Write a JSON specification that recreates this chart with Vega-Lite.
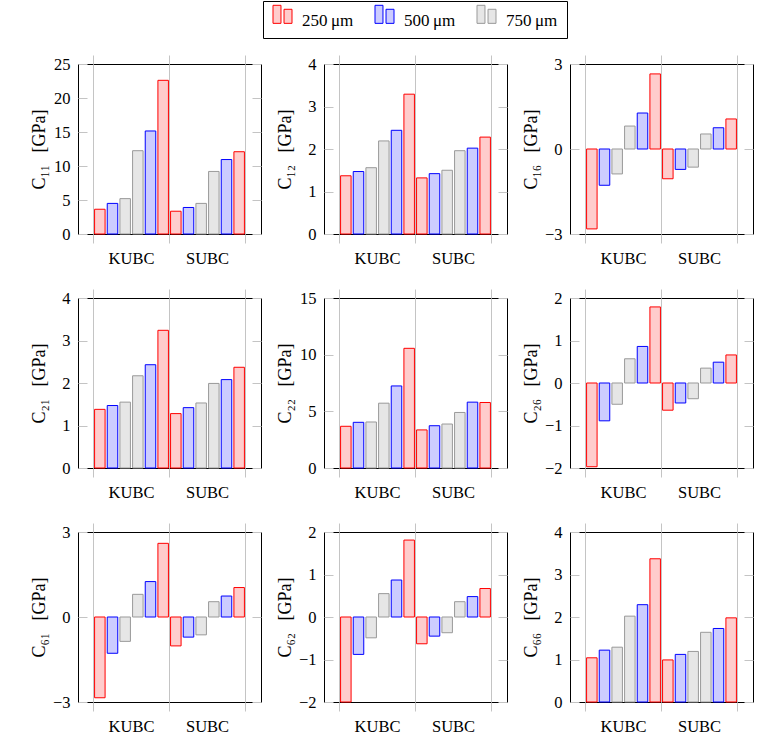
{
"$schema":"https://vega.github.io/schema/vega-lite/v6.json",
"padding":{"left":30,"top":0,"right":0,"bottom":0},
"bounds":"flush",
"columns":3,
"spacing":{"row":64,"column":63},
"config":{"font":"Liberation Serif","view":{"stroke":"#000000","strokeWidth":1},
"axis":{"labelFont":"Liberation Serif","labelFontSize":16.5,"labelColor":"#000","titleFont":"Liberation Serif","titleFontSize":18,"titleFontWeight":"normal","titleColor":"#000","tickColor":"#c4c4c4","gridColor":"#c4c4c4","domain":false,"tickWidth":1,"gridWidth":1}},
"data":{"values":[
{"panel":"C11","group":"KUBC","bar":1,"size":"250","value":3.64},{"panel":"C11","group":"KUBC","bar":2,"size":"500","value":4.5},{"panel":"C11","group":"KUBC","bar":3,"size":"750","value":5.2},{"panel":"C11","group":"KUBC","bar":4,"size":"750","value":12.25},{"panel":"C11","group":"KUBC","bar":5,"size":"500","value":15.15},{"panel":"C11","group":"KUBC","bar":6,"size":"250","value":22.6},
{"panel":"C11","group":"SUBC","bar":1,"size":"250","value":3.35},{"panel":"C11","group":"SUBC","bar":2,"size":"500","value":3.9},{"panel":"C11","group":"SUBC","bar":3,"size":"750","value":4.5},{"panel":"C11","group":"SUBC","bar":4,"size":"750","value":9.2},{"panel":"C11","group":"SUBC","bar":5,"size":"500","value":10.95},{"panel":"C11","group":"SUBC","bar":6,"size":"250","value":12.1},
{"panel":"C12","group":"KUBC","bar":1,"size":"250","value":1.37},{"panel":"C12","group":"KUBC","bar":2,"size":"500","value":1.47},{"panel":"C12","group":"KUBC","bar":3,"size":"750","value":1.56},{"panel":"C12","group":"KUBC","bar":4,"size":"750","value":2.19},{"panel":"C12","group":"KUBC","bar":5,"size":"500","value":2.44},{"panel":"C12","group":"KUBC","bar":6,"size":"250","value":3.29},
{"panel":"C12","group":"SUBC","bar":1,"size":"250","value":1.32},{"panel":"C12","group":"SUBC","bar":2,"size":"500","value":1.42},{"panel":"C12","group":"SUBC","bar":3,"size":"750","value":1.5},{"panel":"C12","group":"SUBC","bar":4,"size":"750","value":1.96},{"panel":"C12","group":"SUBC","bar":5,"size":"500","value":2.02},{"panel":"C12","group":"SUBC","bar":6,"size":"250","value":2.28},
{"panel":"C16","group":"KUBC","bar":1,"size":"250","value":-2.82},{"panel":"C16","group":"KUBC","bar":2,"size":"500","value":-1.28},{"panel":"C16","group":"KUBC","bar":3,"size":"750","value":-0.88},{"panel":"C16","group":"KUBC","bar":4,"size":"750","value":0.81},{"panel":"C16","group":"KUBC","bar":5,"size":"500","value":1.27},{"panel":"C16","group":"KUBC","bar":6,"size":"250","value":2.65},
{"panel":"C16","group":"SUBC","bar":1,"size":"250","value":-1.05},{"panel":"C16","group":"SUBC","bar":2,"size":"500","value":-0.72},{"panel":"C16","group":"SUBC","bar":3,"size":"750","value":-0.64},{"panel":"C16","group":"SUBC","bar":4,"size":"750","value":0.53},{"panel":"C16","group":"SUBC","bar":5,"size":"500","value":0.75},{"panel":"C16","group":"SUBC","bar":6,"size":"250","value":1.06},
{"panel":"C21","group":"KUBC","bar":1,"size":"250","value":1.38},{"panel":"C21","group":"KUBC","bar":2,"size":"500","value":1.47},{"panel":"C21","group":"KUBC","bar":3,"size":"750","value":1.55},{"panel":"C21","group":"KUBC","bar":4,"size":"750","value":2.17},{"panel":"C21","group":"KUBC","bar":5,"size":"500","value":2.43},{"panel":"C21","group":"KUBC","bar":6,"size":"250","value":3.24},
{"panel":"C21","group":"SUBC","bar":1,"size":"250","value":1.28},{"panel":"C21","group":"SUBC","bar":2,"size":"500","value":1.42},{"panel":"C21","group":"SUBC","bar":3,"size":"750","value":1.53},{"panel":"C21","group":"SUBC","bar":4,"size":"750","value":1.99},{"panel":"C21","group":"SUBC","bar":5,"size":"500","value":2.08},{"panel":"C21","group":"SUBC","bar":6,"size":"250","value":2.37},
{"panel":"C22","group":"KUBC","bar":1,"size":"250","value":3.68},{"panel":"C22","group":"KUBC","bar":2,"size":"500","value":4.03},{"panel":"C22","group":"KUBC","bar":3,"size":"750","value":4.06},{"panel":"C22","group":"KUBC","bar":4,"size":"750","value":5.72},{"panel":"C22","group":"KUBC","bar":5,"size":"500","value":7.24},{"panel":"C22","group":"KUBC","bar":6,"size":"250","value":10.56},
{"panel":"C22","group":"SUBC","bar":1,"size":"250","value":3.36},{"panel":"C22","group":"SUBC","bar":2,"size":"500","value":3.73},{"panel":"C22","group":"SUBC","bar":3,"size":"750","value":3.88},{"panel":"C22","group":"SUBC","bar":4,"size":"750","value":4.9},{"panel":"C22","group":"SUBC","bar":5,"size":"500","value":5.81},{"panel":"C22","group":"SUBC","bar":6,"size":"250","value":5.78},
{"panel":"C26","group":"KUBC","bar":1,"size":"250","value":-1.97},{"panel":"C26","group":"KUBC","bar":2,"size":"500","value":-0.89},{"panel":"C26","group":"KUBC","bar":3,"size":"750","value":-0.5},{"panel":"C26","group":"KUBC","bar":4,"size":"750","value":0.57},{"panel":"C26","group":"KUBC","bar":5,"size":"500","value":0.86},{"panel":"C26","group":"KUBC","bar":6,"size":"250","value":1.79},
{"panel":"C26","group":"SUBC","bar":1,"size":"250","value":-0.64},{"panel":"C26","group":"SUBC","bar":2,"size":"500","value":-0.47},{"panel":"C26","group":"SUBC","bar":3,"size":"750","value":-0.37},{"panel":"C26","group":"SUBC","bar":4,"size":"750","value":0.35},{"panel":"C26","group":"SUBC","bar":5,"size":"500","value":0.49},{"panel":"C26","group":"SUBC","bar":6,"size":"250","value":0.66},
{"panel":"C61","group":"KUBC","bar":1,"size":"250","value":-2.85},{"panel":"C61","group":"KUBC","bar":2,"size":"500","value":-1.28},{"panel":"C61","group":"KUBC","bar":3,"size":"750","value":-0.86},{"panel":"C61","group":"KUBC","bar":4,"size":"750","value":0.8},{"panel":"C61","group":"KUBC","bar":5,"size":"500","value":1.25},{"panel":"C61","group":"KUBC","bar":6,"size":"250","value":2.6},
{"panel":"C61","group":"SUBC","bar":1,"size":"250","value":-1.02},{"panel":"C61","group":"SUBC","bar":2,"size":"500","value":-0.71},{"panel":"C61","group":"SUBC","bar":3,"size":"750","value":-0.63},{"panel":"C61","group":"SUBC","bar":4,"size":"750","value":0.54},{"panel":"C61","group":"SUBC","bar":5,"size":"500","value":0.74},{"panel":"C61","group":"SUBC","bar":6,"size":"250","value":1.04},
{"panel":"C62","group":"KUBC","bar":1,"size":"250","value":-2.0},{"panel":"C62","group":"KUBC","bar":2,"size":"500","value":-0.88},{"panel":"C62","group":"KUBC","bar":3,"size":"750","value":-0.49},{"panel":"C62","group":"KUBC","bar":4,"size":"750","value":0.55},{"panel":"C62","group":"KUBC","bar":5,"size":"500","value":0.87},{"panel":"C62","group":"KUBC","bar":6,"size":"250","value":1.81},
{"panel":"C62","group":"SUBC","bar":1,"size":"250","value":-0.63},{"panel":"C62","group":"SUBC","bar":2,"size":"500","value":-0.45},{"panel":"C62","group":"SUBC","bar":3,"size":"750","value":-0.37},{"panel":"C62","group":"SUBC","bar":4,"size":"750","value":0.36},{"panel":"C62","group":"SUBC","bar":5,"size":"500","value":0.48},{"panel":"C62","group":"SUBC","bar":6,"size":"250","value":0.67},
{"panel":"C66","group":"KUBC","bar":1,"size":"250","value":1.04},{"panel":"C66","group":"KUBC","bar":2,"size":"500","value":1.22},{"panel":"C66","group":"KUBC","bar":3,"size":"750","value":1.29},{"panel":"C66","group":"KUBC","bar":4,"size":"750","value":2.02},{"panel":"C66","group":"KUBC","bar":5,"size":"500","value":2.29},{"panel":"C66","group":"KUBC","bar":6,"size":"250","value":3.37},
{"panel":"C66","group":"SUBC","bar":1,"size":"250","value":0.99},{"panel":"C66","group":"SUBC","bar":2,"size":"500","value":1.12},{"panel":"C66","group":"SUBC","bar":3,"size":"750","value":1.19},{"panel":"C66","group":"SUBC","bar":4,"size":"750","value":1.64},{"panel":"C66","group":"SUBC","bar":5,"size":"500","value":1.73},{"panel":"C66","group":"SUBC","bar":6,"size":"250","value":1.98}
]},
"concat":[
{"width":183,"height":170,"transform":[{"filter":"datum.panel==='C11'"}],"resolve":{"axis":{"x":"independent","y":"independent"}},
"layer":[
{"mark":{"type":"bar","strokeWidth":1},"encoding":{
"x":{"field":"group","type":"nominal","sort":["KUBC","SUBC"],"scale":{"paddingInner":0,"paddingOuter":0.204},"axis":{"orient":"bottom","bandPosition":0,"grid":true,"tickSize":9,"labelPadding":7,"labelAngle":0,"title":null}},
"xOffset":{"field":"bar","type":"ordinal","scale":{"paddingInner":0.17,"paddingOuter":0.085}},
"y":{"field":"value","type":"quantitative","scale":{"domain":[0,25],"nice":false},"axis":{"orient":"left","values":[0,5,10,15,20,25],"tickSize":-9,"labelPadding":17,"minExtent":26,"maxExtent":26,"titlePadding":3.5,"grid":false,"title":"C₁₁\u2002\u2009[GPa]"}},
"fill":{"field":"size","type":"nominal","scale":{"domain":["250","500","750"],"range":["#ffcccc","#ccccff","#e6e6e6"]},"legend":{"orient":"none","legendX":185,"legendY":-63,"direction":"horizontal","title":null,"labelExpr":"datum.label + '\u2009μm'","symbolType":"M-1,-1.6H-0.16V0.3H-1Z M0.16,-1.18H1V0.3H0.16Z","symbolSize":361,"symbolStrokeWidth":1,"labelFont":"Liberation Serif","labelFontSize":17,"labelColor":"#000","labelOffset":9.5,"columnPadding":19,"padding":9.5,"strokeColor":"#000","fillColor":"#fff","cornerRadius":0}},
"stroke":{"field":"size","type":"nominal","scale":{"domain":["250","500","750"],"range":["#ff0000","#0000ff","#999999"]},"legend":{"orient":"none","legendX":185,"legendY":-63,"direction":"horizontal","title":null,"labelExpr":"datum.label + '\u2009μm'","symbolType":"M-1,-1.6H-0.16V0.3H-1Z M0.16,-1.18H1V0.3H0.16Z","symbolSize":361,"symbolStrokeWidth":1,"labelFont":"Liberation Serif","labelFontSize":17,"labelColor":"#000","labelOffset":9.5,"columnPadding":19,"padding":9.5,"strokeColor":"#000","fillColor":"#fff","cornerRadius":0}}}},
{"mark":{"type":"bar","opacity":0},"encoding":{"x":{"field":"group","type":"nominal","sort":["KUBC","SUBC"],"axis":{"orient":"bottom","bandPosition":1,"values":["SUBC"],"grid":true,"tickSize":9,"labels":false,"title":null}},"xOffset":{"field":"bar","type":"ordinal"},"y":{"field":"value","type":"quantitative","axis":{"orient":"right","values":[0,5,10,15,20,25],"tickSize":-9,"labels":false,"grid":false,"title":null}}}},
{"mark":{"type":"bar","opacity":0},"encoding":{"x":{"field":"group","type":"nominal","sort":["KUBC","SUBC"],"axis":{"orient":"top","bandPosition":0,"grid":false,"tickSize":9,"labels":false,"title":null}},"xOffset":{"field":"bar","type":"ordinal"},"y":{"field":"value","type":"quantitative","axis":null}}},
{"mark":{"type":"bar","opacity":0},"encoding":{"x":{"field":"group","type":"nominal","sort":["KUBC","SUBC"],"axis":{"orient":"top","bandPosition":1,"values":["SUBC"],"grid":false,"tickSize":9,"labels":false,"title":null}},"xOffset":{"field":"bar","type":"ordinal"},"y":{"field":"value","type":"quantitative","axis":null}}}
]},
{"width":183,"height":170,"transform":[{"filter":"datum.panel==='C12'"}],"resolve":{"axis":{"x":"independent","y":"independent"}},
"layer":[
{"mark":{"type":"bar","strokeWidth":1},"encoding":{
"x":{"field":"group","type":"nominal","sort":["KUBC","SUBC"],"scale":{"paddingInner":0,"paddingOuter":0.204},"axis":{"orient":"bottom","bandPosition":0,"grid":true,"tickSize":9,"labelPadding":7,"labelAngle":0,"title":null}},
"xOffset":{"field":"bar","type":"ordinal","scale":{"paddingInner":0.17,"paddingOuter":0.085}},
"y":{"field":"value","type":"quantitative","scale":{"domain":[0,4],"nice":false},"axis":{"orient":"left","values":[0,1,2,3,4],"tickSize":-9,"labelPadding":17,"minExtent":26,"maxExtent":26,"titlePadding":3.5,"grid":false,"title":"C₁₂\u2002\u2009[GPa]"}},
"fill":{"field":"size","type":"nominal"},
"stroke":{"field":"size","type":"nominal"}}},
{"mark":{"type":"bar","opacity":0},"encoding":{"x":{"field":"group","type":"nominal","sort":["KUBC","SUBC"],"axis":{"orient":"bottom","bandPosition":1,"values":["SUBC"],"grid":true,"tickSize":9,"labels":false,"title":null}},"xOffset":{"field":"bar","type":"ordinal"},"y":{"field":"value","type":"quantitative","axis":{"orient":"right","values":[0,1,2,3,4],"tickSize":-9,"labels":false,"grid":false,"title":null}}}},
{"mark":{"type":"bar","opacity":0},"encoding":{"x":{"field":"group","type":"nominal","sort":["KUBC","SUBC"],"axis":{"orient":"top","bandPosition":0,"grid":false,"tickSize":9,"labels":false,"title":null}},"xOffset":{"field":"bar","type":"ordinal"},"y":{"field":"value","type":"quantitative","axis":null}}},
{"mark":{"type":"bar","opacity":0},"encoding":{"x":{"field":"group","type":"nominal","sort":["KUBC","SUBC"],"axis":{"orient":"top","bandPosition":1,"values":["SUBC"],"grid":false,"tickSize":9,"labels":false,"title":null}},"xOffset":{"field":"bar","type":"ordinal"},"y":{"field":"value","type":"quantitative","axis":null}}}
]},
{"width":183,"height":170,"transform":[{"filter":"datum.panel==='C16'"}],"resolve":{"axis":{"x":"independent","y":"independent"}},
"layer":[
{"mark":{"type":"bar","strokeWidth":1},"encoding":{
"x":{"field":"group","type":"nominal","sort":["KUBC","SUBC"],"scale":{"paddingInner":0,"paddingOuter":0.204},"axis":{"orient":"bottom","bandPosition":0,"grid":true,"tickSize":9,"labelPadding":7,"labelAngle":0,"title":null}},
"xOffset":{"field":"bar","type":"ordinal","scale":{"paddingInner":0.17,"paddingOuter":0.085}},
"y":{"field":"value","type":"quantitative","scale":{"domain":[-3,3],"nice":false},"axis":{"orient":"left","values":[-3,0,3],"tickSize":-9,"labelPadding":17,"minExtent":26,"maxExtent":26,"titlePadding":3.5,"grid":false,"title":"C₁₆\u2002\u2009[GPa]"}},
"fill":{"field":"size","type":"nominal"},
"stroke":{"field":"size","type":"nominal"}}},
{"mark":{"type":"bar","opacity":0},"encoding":{"x":{"field":"group","type":"nominal","sort":["KUBC","SUBC"],"axis":{"orient":"bottom","bandPosition":1,"values":["SUBC"],"grid":true,"tickSize":9,"labels":false,"title":null}},"xOffset":{"field":"bar","type":"ordinal"},"y":{"field":"value","type":"quantitative","axis":{"orient":"right","values":[-3,0,3],"tickSize":-9,"labels":false,"grid":false,"title":null}}}},
{"mark":{"type":"bar","opacity":0},"encoding":{"x":{"field":"group","type":"nominal","sort":["KUBC","SUBC"],"axis":{"orient":"top","bandPosition":0,"grid":false,"tickSize":9,"labels":false,"title":null}},"xOffset":{"field":"bar","type":"ordinal"},"y":{"field":"value","type":"quantitative","axis":null}}},
{"mark":{"type":"bar","opacity":0},"encoding":{"x":{"field":"group","type":"nominal","sort":["KUBC","SUBC"],"axis":{"orient":"top","bandPosition":1,"values":["SUBC"],"grid":false,"tickSize":9,"labels":false,"title":null}},"xOffset":{"field":"bar","type":"ordinal"},"y":{"field":"value","type":"quantitative","axis":null}}}
]},
{"width":183,"height":170,"transform":[{"filter":"datum.panel==='C21'"}],"resolve":{"axis":{"x":"independent","y":"independent"}},
"layer":[
{"mark":{"type":"bar","strokeWidth":1},"encoding":{
"x":{"field":"group","type":"nominal","sort":["KUBC","SUBC"],"scale":{"paddingInner":0,"paddingOuter":0.204},"axis":{"orient":"bottom","bandPosition":0,"grid":true,"tickSize":9,"labelPadding":7,"labelAngle":0,"title":null}},
"xOffset":{"field":"bar","type":"ordinal","scale":{"paddingInner":0.17,"paddingOuter":0.085}},
"y":{"field":"value","type":"quantitative","scale":{"domain":[0,4],"nice":false},"axis":{"orient":"left","values":[0,1,2,3,4],"tickSize":-9,"labelPadding":17,"minExtent":26,"maxExtent":26,"titlePadding":3.5,"grid":false,"title":"C₂₁\u2002\u2009[GPa]"}},
"fill":{"field":"size","type":"nominal"},
"stroke":{"field":"size","type":"nominal"}}},
{"mark":{"type":"bar","opacity":0},"encoding":{"x":{"field":"group","type":"nominal","sort":["KUBC","SUBC"],"axis":{"orient":"bottom","bandPosition":1,"values":["SUBC"],"grid":true,"tickSize":9,"labels":false,"title":null}},"xOffset":{"field":"bar","type":"ordinal"},"y":{"field":"value","type":"quantitative","axis":{"orient":"right","values":[0,1,2,3,4],"tickSize":-9,"labels":false,"grid":false,"title":null}}}},
{"mark":{"type":"bar","opacity":0},"encoding":{"x":{"field":"group","type":"nominal","sort":["KUBC","SUBC"],"axis":{"orient":"top","bandPosition":0,"grid":false,"tickSize":9,"labels":false,"title":null}},"xOffset":{"field":"bar","type":"ordinal"},"y":{"field":"value","type":"quantitative","axis":null}}},
{"mark":{"type":"bar","opacity":0},"encoding":{"x":{"field":"group","type":"nominal","sort":["KUBC","SUBC"],"axis":{"orient":"top","bandPosition":1,"values":["SUBC"],"grid":false,"tickSize":9,"labels":false,"title":null}},"xOffset":{"field":"bar","type":"ordinal"},"y":{"field":"value","type":"quantitative","axis":null}}}
]},
{"width":183,"height":170,"transform":[{"filter":"datum.panel==='C22'"}],"resolve":{"axis":{"x":"independent","y":"independent"}},
"layer":[
{"mark":{"type":"bar","strokeWidth":1},"encoding":{
"x":{"field":"group","type":"nominal","sort":["KUBC","SUBC"],"scale":{"paddingInner":0,"paddingOuter":0.204},"axis":{"orient":"bottom","bandPosition":0,"grid":true,"tickSize":9,"labelPadding":7,"labelAngle":0,"title":null}},
"xOffset":{"field":"bar","type":"ordinal","scale":{"paddingInner":0.17,"paddingOuter":0.085}},
"y":{"field":"value","type":"quantitative","scale":{"domain":[0,15],"nice":false},"axis":{"orient":"left","values":[0,5,10,15],"tickSize":-9,"labelPadding":17,"minExtent":26,"maxExtent":26,"titlePadding":3.5,"grid":false,"title":"C₂₂\u2002\u2009[GPa]"}},
"fill":{"field":"size","type":"nominal"},
"stroke":{"field":"size","type":"nominal"}}},
{"mark":{"type":"bar","opacity":0},"encoding":{"x":{"field":"group","type":"nominal","sort":["KUBC","SUBC"],"axis":{"orient":"bottom","bandPosition":1,"values":["SUBC"],"grid":true,"tickSize":9,"labels":false,"title":null}},"xOffset":{"field":"bar","type":"ordinal"},"y":{"field":"value","type":"quantitative","axis":{"orient":"right","values":[0,5,10,15],"tickSize":-9,"labels":false,"grid":false,"title":null}}}},
{"mark":{"type":"bar","opacity":0},"encoding":{"x":{"field":"group","type":"nominal","sort":["KUBC","SUBC"],"axis":{"orient":"top","bandPosition":0,"grid":false,"tickSize":9,"labels":false,"title":null}},"xOffset":{"field":"bar","type":"ordinal"},"y":{"field":"value","type":"quantitative","axis":null}}},
{"mark":{"type":"bar","opacity":0},"encoding":{"x":{"field":"group","type":"nominal","sort":["KUBC","SUBC"],"axis":{"orient":"top","bandPosition":1,"values":["SUBC"],"grid":false,"tickSize":9,"labels":false,"title":null}},"xOffset":{"field":"bar","type":"ordinal"},"y":{"field":"value","type":"quantitative","axis":null}}}
]},
{"width":183,"height":170,"transform":[{"filter":"datum.panel==='C26'"}],"resolve":{"axis":{"x":"independent","y":"independent"}},
"layer":[
{"mark":{"type":"bar","strokeWidth":1},"encoding":{
"x":{"field":"group","type":"nominal","sort":["KUBC","SUBC"],"scale":{"paddingInner":0,"paddingOuter":0.204},"axis":{"orient":"bottom","bandPosition":0,"grid":true,"tickSize":9,"labelPadding":7,"labelAngle":0,"title":null}},
"xOffset":{"field":"bar","type":"ordinal","scale":{"paddingInner":0.17,"paddingOuter":0.085}},
"y":{"field":"value","type":"quantitative","scale":{"domain":[-2,2],"nice":false},"axis":{"orient":"left","values":[-2,-1,0,1,2],"tickSize":-9,"labelPadding":17,"minExtent":26,"maxExtent":26,"titlePadding":3.5,"grid":false,"title":"C₂₆\u2002\u2009[GPa]"}},
"fill":{"field":"size","type":"nominal"},
"stroke":{"field":"size","type":"nominal"}}},
{"mark":{"type":"bar","opacity":0},"encoding":{"x":{"field":"group","type":"nominal","sort":["KUBC","SUBC"],"axis":{"orient":"bottom","bandPosition":1,"values":["SUBC"],"grid":true,"tickSize":9,"labels":false,"title":null}},"xOffset":{"field":"bar","type":"ordinal"},"y":{"field":"value","type":"quantitative","axis":{"orient":"right","values":[-2,-1,0,1,2],"tickSize":-9,"labels":false,"grid":false,"title":null}}}},
{"mark":{"type":"bar","opacity":0},"encoding":{"x":{"field":"group","type":"nominal","sort":["KUBC","SUBC"],"axis":{"orient":"top","bandPosition":0,"grid":false,"tickSize":9,"labels":false,"title":null}},"xOffset":{"field":"bar","type":"ordinal"},"y":{"field":"value","type":"quantitative","axis":null}}},
{"mark":{"type":"bar","opacity":0},"encoding":{"x":{"field":"group","type":"nominal","sort":["KUBC","SUBC"],"axis":{"orient":"top","bandPosition":1,"values":["SUBC"],"grid":false,"tickSize":9,"labels":false,"title":null}},"xOffset":{"field":"bar","type":"ordinal"},"y":{"field":"value","type":"quantitative","axis":null}}}
]},
{"width":183,"height":170,"transform":[{"filter":"datum.panel==='C61'"}],"resolve":{"axis":{"x":"independent","y":"independent"}},
"layer":[
{"mark":{"type":"bar","strokeWidth":1},"encoding":{
"x":{"field":"group","type":"nominal","sort":["KUBC","SUBC"],"scale":{"paddingInner":0,"paddingOuter":0.204},"axis":{"orient":"bottom","bandPosition":0,"grid":true,"tickSize":9,"labelPadding":7,"labelAngle":0,"title":null}},
"xOffset":{"field":"bar","type":"ordinal","scale":{"paddingInner":0.17,"paddingOuter":0.085}},
"y":{"field":"value","type":"quantitative","scale":{"domain":[-3,3],"nice":false},"axis":{"orient":"left","values":[-3,0,3],"tickSize":-9,"labelPadding":17,"minExtent":26,"maxExtent":26,"titlePadding":3.5,"grid":false,"title":"C₆₁\u2002\u2009[GPa]"}},
"fill":{"field":"size","type":"nominal"},
"stroke":{"field":"size","type":"nominal"}}},
{"mark":{"type":"bar","opacity":0},"encoding":{"x":{"field":"group","type":"nominal","sort":["KUBC","SUBC"],"axis":{"orient":"bottom","bandPosition":1,"values":["SUBC"],"grid":true,"tickSize":9,"labels":false,"title":null}},"xOffset":{"field":"bar","type":"ordinal"},"y":{"field":"value","type":"quantitative","axis":{"orient":"right","values":[-3,0,3],"tickSize":-9,"labels":false,"grid":false,"title":null}}}},
{"mark":{"type":"bar","opacity":0},"encoding":{"x":{"field":"group","type":"nominal","sort":["KUBC","SUBC"],"axis":{"orient":"top","bandPosition":0,"grid":false,"tickSize":9,"labels":false,"title":null}},"xOffset":{"field":"bar","type":"ordinal"},"y":{"field":"value","type":"quantitative","axis":null}}},
{"mark":{"type":"bar","opacity":0},"encoding":{"x":{"field":"group","type":"nominal","sort":["KUBC","SUBC"],"axis":{"orient":"top","bandPosition":1,"values":["SUBC"],"grid":false,"tickSize":9,"labels":false,"title":null}},"xOffset":{"field":"bar","type":"ordinal"},"y":{"field":"value","type":"quantitative","axis":null}}}
]},
{"width":183,"height":170,"transform":[{"filter":"datum.panel==='C62'"}],"resolve":{"axis":{"x":"independent","y":"independent"}},
"layer":[
{"mark":{"type":"bar","strokeWidth":1},"encoding":{
"x":{"field":"group","type":"nominal","sort":["KUBC","SUBC"],"scale":{"paddingInner":0,"paddingOuter":0.204},"axis":{"orient":"bottom","bandPosition":0,"grid":true,"tickSize":9,"labelPadding":7,"labelAngle":0,"title":null}},
"xOffset":{"field":"bar","type":"ordinal","scale":{"paddingInner":0.17,"paddingOuter":0.085}},
"y":{"field":"value","type":"quantitative","scale":{"domain":[-2,2],"nice":false},"axis":{"orient":"left","values":[-2,-1,0,1,2],"tickSize":-9,"labelPadding":17,"minExtent":26,"maxExtent":26,"titlePadding":3.5,"grid":false,"title":"C₆₂\u2002\u2009[GPa]"}},
"fill":{"field":"size","type":"nominal"},
"stroke":{"field":"size","type":"nominal"}}},
{"mark":{"type":"bar","opacity":0},"encoding":{"x":{"field":"group","type":"nominal","sort":["KUBC","SUBC"],"axis":{"orient":"bottom","bandPosition":1,"values":["SUBC"],"grid":true,"tickSize":9,"labels":false,"title":null}},"xOffset":{"field":"bar","type":"ordinal"},"y":{"field":"value","type":"quantitative","axis":{"orient":"right","values":[-2,-1,0,1,2],"tickSize":-9,"labels":false,"grid":false,"title":null}}}},
{"mark":{"type":"bar","opacity":0},"encoding":{"x":{"field":"group","type":"nominal","sort":["KUBC","SUBC"],"axis":{"orient":"top","bandPosition":0,"grid":false,"tickSize":9,"labels":false,"title":null}},"xOffset":{"field":"bar","type":"ordinal"},"y":{"field":"value","type":"quantitative","axis":null}}},
{"mark":{"type":"bar","opacity":0},"encoding":{"x":{"field":"group","type":"nominal","sort":["KUBC","SUBC"],"axis":{"orient":"top","bandPosition":1,"values":["SUBC"],"grid":false,"tickSize":9,"labels":false,"title":null}},"xOffset":{"field":"bar","type":"ordinal"},"y":{"field":"value","type":"quantitative","axis":null}}}
]},
{"width":183,"height":170,"transform":[{"filter":"datum.panel==='C66'"}],"resolve":{"axis":{"x":"independent","y":"independent"}},
"layer":[
{"mark":{"type":"bar","strokeWidth":1},"encoding":{
"x":{"field":"group","type":"nominal","sort":["KUBC","SUBC"],"scale":{"paddingInner":0,"paddingOuter":0.204},"axis":{"orient":"bottom","bandPosition":0,"grid":true,"tickSize":9,"labelPadding":7,"labelAngle":0,"title":null}},
"xOffset":{"field":"bar","type":"ordinal","scale":{"paddingInner":0.17,"paddingOuter":0.085}},
"y":{"field":"value","type":"quantitative","scale":{"domain":[0,4],"nice":false},"axis":{"orient":"left","values":[0,1,2,3,4],"tickSize":-9,"labelPadding":17,"minExtent":26,"maxExtent":26,"titlePadding":3.5,"grid":false,"title":"C₆₆\u2002\u2009[GPa]"}},
"fill":{"field":"size","type":"nominal"},
"stroke":{"field":"size","type":"nominal"}}},
{"mark":{"type":"bar","opacity":0},"encoding":{"x":{"field":"group","type":"nominal","sort":["KUBC","SUBC"],"axis":{"orient":"bottom","bandPosition":1,"values":["SUBC"],"grid":true,"tickSize":9,"labels":false,"title":null}},"xOffset":{"field":"bar","type":"ordinal"},"y":{"field":"value","type":"quantitative","axis":{"orient":"right","values":[0,1,2,3,4],"tickSize":-9,"labels":false,"grid":false,"title":null}}}},
{"mark":{"type":"bar","opacity":0},"encoding":{"x":{"field":"group","type":"nominal","sort":["KUBC","SUBC"],"axis":{"orient":"top","bandPosition":0,"grid":false,"tickSize":9,"labels":false,"title":null}},"xOffset":{"field":"bar","type":"ordinal"},"y":{"field":"value","type":"quantitative","axis":null}}},
{"mark":{"type":"bar","opacity":0},"encoding":{"x":{"field":"group","type":"nominal","sort":["KUBC","SUBC"],"axis":{"orient":"top","bandPosition":1,"values":["SUBC"],"grid":false,"tickSize":9,"labels":false,"title":null}},"xOffset":{"field":"bar","type":"ordinal"},"y":{"field":"value","type":"quantitative","axis":null}}}
]}
]
}
